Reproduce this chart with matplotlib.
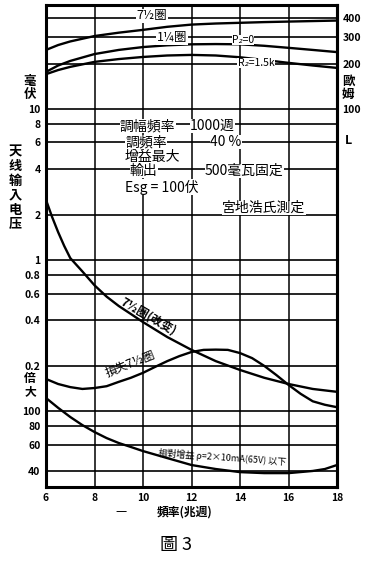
import numpy as np
import matplotlib
matplotlib.use('Agg')
import matplotlib.pyplot as plt

plt.rcParams['font.family'] = ['Noto Sans CJK JP', 'DejaVu Sans']

# frequency axis (Mc) for the impedance curves
freq = [6, 6.5, 7, 8, 9, 10, 11, 12, 13, 14, 15, 16, 17, 18]

# impedance curves (ohm, right scale)
ohm_75 = [246, 265, 280, 304, 320, 334, 350, 362, 368, 372, 376, 379, 382, 385]
ohm_p0 = [176, 194, 208, 231, 246, 257, 264, 268, 269, 268, 262, 254, 246, 238]
ohm_r15 = [170, 181, 190, 205, 214, 221, 226, 228, 226, 220, 211, 202, 194, 187]

# antenna input voltage (mV)
freq_d = [6, 6.25, 6.5, 6.75, 7, 7.5, 8, 8.5, 9, 9.5, 10, 11, 12, 13, 14, 15, 16, 17, 18]
mv_d = [2.5, 1.93, 1.53, 1.24, 1.03, 0.84, 0.68, 0.572, 0.496, 0.439, 0.388,
        0.309, 0.254, 0.214, 0.187, 0.166, 0.151, 0.140, 0.134]
freq_e = [6, 6.5, 7, 7.5, 8, 8.5, 9, 9.5, 10, 10.5, 11, 11.5, 12, 12.5, 13, 13.5,
          14, 14.5, 15, 15.5, 16, 16.5, 17, 17.5, 18]
mv_e = [0.163, 0.151, 0.144, 0.140, 0.142, 0.146, 0.156, 0.166, 0.179, 0.196, 0.214,
        0.231, 0.246, 0.254, 0.255, 0.254, 0.242, 0.224, 0.199, 0.173, 0.149, 0.130,
        0.116, 0.110, 0.106]

# gain ratio (lower scale)
freq_f = [6, 6.5, 7, 7.5, 8, 8.5, 9, 9.5, 10, 11, 12, 13, 14, 15, 16, 17, 17.5, 18]
ratio_f = [122, 105, 91.3, 80.7, 72.6, 66.2, 61.4, 57.8, 54.3, 48.8, 43.9, 41.3,
           39.4, 38.8, 38.8, 40.1, 41.3, 43.9]

left_ticks = [10, 8, 6, 4, 2, 1, 0.8, 0.6, 0.4, 0.2]
left_labels = ['10', '8', '6', '4', '2', '1', '0.8', '0.6', '0.4', '0.2']
low_ticks = [100, 80, 60, 40]
right_ticks = [400, 300, 200, 100]
x_ticks = [6, 8, 10, 12, 14, 16, 18]

W, H = 374, 567
fig = plt.figure(figsize=(W / 100, H / 100), dpi=100)
ax = fig.add_axes([46 / W, 1 - 487 / H, (337 - 46) / W, (487 - 5) / H])
ax.set_yscale('log')
ax.set_xlim(6, 18)
ax.set_ylim(0.0314, 48.8)

# grid
for v in left_ticks + [t / 1000 for t in low_ticks] + [t / 10 for t in right_ticks[:3]]:
    ax.axhline(v, color='black', lw=1.2, zorder=1)
for x in x_ticks[1:-1]:
    ax.axvline(x, color='black', lw=1.1, zorder=1)

kw = dict(color='black', lw=1.7, zorder=3, solid_joinstyle='round')
ax.plot(freq, np.array(ohm_75) / 10, **kw)
ax.plot(freq, np.array(ohm_p0) / 10, **kw)
ax.plot(freq, np.array(ohm_r15) / 10, **kw)
ax.plot(freq_d, mv_d, **kw)
ax.plot(freq_e, mv_e, **kw)
ax.plot(freq_f, np.array(ratio_f) / 1000, **kw)

for s in ax.spines.values():
    s.set_linewidth(2.2)

ax.set_xticks(x_ticks)
ax.set_xticklabels([str(t) for t in x_ticks], fontsize=7.5, weight='bold')
ax.set_yticks(left_ticks + [t / 1000 for t in low_ticks])
ax.set_yticklabels(left_labels + [str(t) for t in low_ticks], fontsize=7.5, weight='bold')
ax.minorticks_off()
ax.tick_params(length=0, pad=4)

sec = ax.secondary_yaxis('right', functions=(lambda y: y * 10, lambda y: y / 10))
sec.set_yticks(right_ticks)
sec.set_yticklabels([str(t) for t in right_ticks], fontsize=7.5, weight='bold')
sec.minorticks_off()
sec.tick_params(length=0, pad=4)
sec.spines['right'].set_linewidth(2.2)

def px(x, y):
    return (x / W, 1 - y / H)

bg = dict(facecolor='white', edgecolor='none', pad=0.3)

# axis unit labels
fig.text(*px(30, 88), '毫\n伏', fontsize=9, ha='center', va='center', linespacing=1.0, weight='bold')
fig.text(*px(348, 88), '歐\n姆', fontsize=9, ha='center', va='center', linespacing=1.0, weight='bold')
fig.text(*px(348, 140), 'L', fontsize=9, ha='center', va='center', style='italic', weight='bold')
fig.text(*px(30, 385), '倍\n大', fontsize=8.5, ha='center', va='center', linespacing=1.0, weight='bold')
fig.text(*px(15, 188), '天\n线\n输\n入\n电\n压', fontsize=9.5, ha='center', va='center', linespacing=1.05, weight='bold')

# curve labels
fig.text(*px(152, 16), '7½圏', fontsize=9, ha='center', va='center', bbox=bg, zorder=5)
fig.text(*px(172, 38), '1¼圏', fontsize=9, ha='center', va='center', bbox=bg, zorder=5)
fig.text(*px(243, 40), 'P₂=0', fontsize=7.5, ha='center', va='center', style='italic', bbox=bg, zorder=5)
fig.text(*px(256, 63), 'R₂=1.5k', fontsize=7.5, ha='center', va='center', style='italic', bbox=bg, zorder=5)
fig.text(*px(148, 316), '7½圏(改变)', fontsize=8.5, ha='center', va='center', rotation=-30, zorder=5, weight='bold')
fig.text(*px(130, 364), '損失7½圏', fontsize=8.5, ha='center', va='center', rotation=22, zorder=5)
fig.text(*px(222, 457), '相對增益 ρ=2×10mA(65V) 以下', fontsize=6.5, ha='center', va='center', rotation=-4, zorder=5)

# condition block
fs = 10
fig.text(*px(120, 126), '調幅頻率', fontsize=fs, ha='left', va='center', bbox=bg, zorder=5)
fig.text(*px(190, 126), '1000週', fontsize=fs, ha='left', va='center', style='italic', bbox=bg, zorder=5)
fig.text(*px(125, 142), '調頻率', fontsize=fs, ha='left', va='center', bbox=bg, zorder=5)
fig.text(*px(210, 142), '40 %', fontsize=fs, ha='left', va='center', style='italic', bbox=bg, zorder=5)
fig.text(*px(125, 157), '增益最大', fontsize=fs, ha='left', va='center', bbox=bg, zorder=5)
fig.text(*px(130, 171), '輸出', fontsize=fs, ha='left', va='center', bbox=bg, zorder=5)
fig.text(*px(205, 171), '500毫瓦固定', fontsize=fs, ha='left', va='center', bbox=bg, zorder=5)
fig.text(*px(125, 187), 'Esg = 100伏', fontsize=fs, ha='left', va='center', style='italic', bbox=bg, zorder=5)
fig.text(*px(222, 208), '宮地浩氏測定', fontsize=fs, ha='left', va='center', bbox=bg, zorder=5)

# x label and caption
fig.text(*px(121, 512), '—', fontsize=9, ha='center', va='center')
fig.text(*px(185, 512), '頻率(兆週)', fontsize=8.5, ha='center', va='center', weight='bold')
fig.text(*px(176, 545), '圖 3', fontsize=13, ha='center', va='center')

fig.savefig('out.png', dpi=100)
